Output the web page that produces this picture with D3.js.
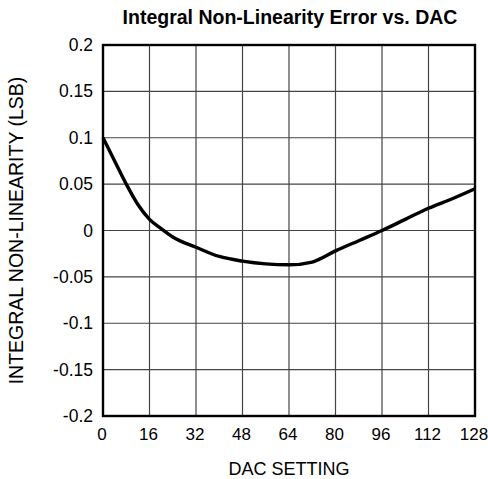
<!DOCTYPE html>
<html>
<head>
<meta charset="utf-8">
<script src="https://cdn.jsdelivr.net/npm/d3@7"></script>
<style>
  body { margin: 0; background: #fff; }
  text { font-family: "Liberation Sans", Arial, sans-serif; fill: #000; }
</style>
</head>
<body>
<script>
var dacSetting = [0, 4, 8, 12, 16, 20, 24, 32, 40, 48, 56, 64, 72, 80, 88, 96, 104, 112, 120, 128]
var inlError = [0.1, 0.075, 0.05, 0.028, 0.012, 0.002, -0.007, -0.018, -0.028, -0.033, -0.036, -0.037, -0.034, -0.022, -0.011, 0, 0.012, 0.024, 0.034, 0.045]
var xTicks = [0, 16, 32, 48, 64, 80, 96, 112, 128]
var yTicks = [-0.2, -0.15, -0.1, -0.05, 0, 0.05, 0.1, 0.15, 0.2]

var W = 488, H = 479
var plotL = 103, plotR = 475, plotT = 45, plotB = 416

var svg = d3.select('body').append('svg')
    .attr('width', W)
    .attr('height', H)

var x = d3.scaleLinear().domain([0, 128]).range([plotL, plotR])
var y = d3.scaleLinear().domain([-0.2, 0.2]).range([plotB, plotT])

// grid
svg.append('g').selectAll('line')
    .data(xTicks.slice(1, -1))
    .enter().append('line')
    .attr('x1', d => x(d)).attr('x2', d => x(d))
    .attr('y1', plotT).attr('y2', plotB)
    .attr('stroke', '#444').attr('stroke-width', 1.2)

svg.append('g').selectAll('line')
    .data(yTicks.slice(1, -1))
    .enter().append('line')
    .attr('x1', plotL).attr('x2', plotR)
    .attr('y1', d => y(d)).attr('y2', d => y(d))
    .attr('stroke', '#444').attr('stroke-width', 1.2)

// axes (labels only)
var xAxis = svg.append('g')
    .attr('transform', 'translate(-1.5,' + plotB + ')')
    .call(d3.axisBottom(x).tickValues(xTicks).tickSize(0).tickPadding(12))
xAxis.select('.domain').remove()
xAxis.selectAll('text').attr('font-size', 17).attr('fill', '#000')

var yAxis = svg.append('g')
    .attr('transform', 'translate(' + plotL + ',0)')
    .call(d3.axisLeft(y).tickValues(yTicks).tickSize(0).tickPadding(10).tickFormat(d => String(+d.toFixed(2))))
yAxis.select('.domain').remove()
yAxis.selectAll('text').attr('font-size', 17.5).attr('fill', '#000')

// curve
svg.append('path')
    .datum(d3.zip(dacSetting, inlError))
    .attr('fill', 'none')
    .attr('stroke', '#000')
    .attr('stroke-width', 3.4)
    .attr('stroke-linejoin', 'round')
    .attr('d', d3.line().x(d => x(d[0])).y(d => y(d[1])).curve(d3.curveMonotoneX))

// frame
svg.append('rect')
    .attr('x', plotL).attr('y', plotT)
    .attr('width', plotR - plotL).attr('height', plotB - plotT)
    .attr('fill', 'none').attr('stroke', '#000').attr('stroke-width', 2.4)

svg.append('text')
    .attr('x', 290).attr('y', 24)
    .attr('text-anchor', 'middle')
    .attr('font-size', 19.5).attr('font-weight', 'bold')
    .text('Integral Non-Linearity Error vs. DAC')

svg.append('text')
    .attr('x', 289).attr('y', 475)
    .attr('text-anchor', 'middle')
    .attr('font-size', 18)
    .text('DAC SETTING')

svg.append('text')
    .attr('transform', 'translate(23,' + ((plotT + plotB) / 2) + ') rotate(-90)')
    .attr('text-anchor', 'middle')
    .attr('font-size', 19.5)
    .text('INTEGRAL NON-LINEARITY (LSB)')
</script>
</body>
</html>
